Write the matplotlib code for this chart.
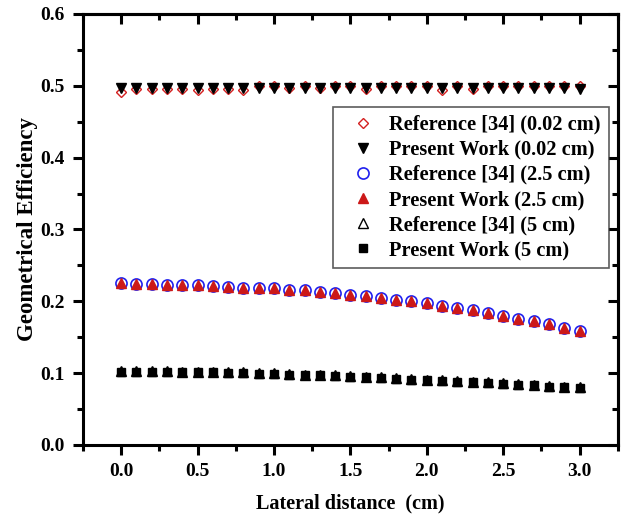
import numpy as np
import matplotlib
matplotlib.use("Agg")
import matplotlib.pyplot as plt
from matplotlib.ticker import MultipleLocator, FormatStrFormatter

plt.rcParams['font.family'] = ['Liberation Serif', 'DejaVu Serif']
plt.rcParams['font.weight'] = 'bold'

# lateral distance (cm)
x = [0.0, 0.1, 0.2, 0.3, 0.4, 0.5, 0.6, 0.7, 0.8, 0.9, 1.0,
     1.1, 1.2, 1.3, 1.4, 1.5, 1.6, 1.7, 1.8, 1.9, 2.0,
     2.1, 2.2, 2.3, 2.4, 2.5, 2.6, 2.7, 2.8, 2.9, 3.0]

ref_002 = [0.491, 0.495, 0.495, 0.495, 0.495, 0.494, 0.495, 0.495, 0.494, 0.499, 0.500,
           0.497, 0.500, 0.497, 0.500, 0.500, 0.495, 0.500, 0.500, 0.500, 0.500,
           0.494, 0.500, 0.496, 0.500, 0.500, 0.500, 0.500, 0.500, 0.500, 0.500]
pw_002 = [0.497, 0.497, 0.497, 0.497, 0.497, 0.497, 0.497, 0.497, 0.497, 0.497, 0.497,
          0.497, 0.497, 0.497, 0.497, 0.497, 0.497, 0.497, 0.497, 0.497, 0.497,
          0.497, 0.497, 0.497, 0.497, 0.497, 0.497, 0.497, 0.497, 0.497, 0.496]

ref_25 = [0.225, 0.224, 0.224, 0.223, 0.223, 0.222, 0.221, 0.220, 0.219, 0.219, 0.218,
          0.216, 0.215, 0.213, 0.211, 0.209, 0.207, 0.205, 0.202, 0.200, 0.197,
          0.194, 0.191, 0.188, 0.184, 0.180, 0.176, 0.172, 0.168, 0.163, 0.158]
pw_25 = [0.225, 0.224, 0.224, 0.223, 0.223, 0.222, 0.221, 0.220, 0.219, 0.219, 0.218,
         0.216, 0.215, 0.213, 0.211, 0.209, 0.207, 0.205, 0.202, 0.200, 0.197,
         0.194, 0.191, 0.188, 0.184, 0.180, 0.176, 0.172, 0.168, 0.163, 0.158]

ref_5 = [0.103, 0.103, 0.103, 0.103, 0.102, 0.102, 0.102, 0.101, 0.101, 0.100, 0.100,
         0.099, 0.098, 0.098, 0.097, 0.096, 0.095, 0.094, 0.093, 0.092, 0.091,
         0.090, 0.089, 0.088, 0.087, 0.086, 0.085, 0.084, 0.082, 0.081, 0.080]
pw_5 = [0.102, 0.102, 0.102, 0.102, 0.101, 0.101, 0.101, 0.100, 0.100, 0.099, 0.099,
        0.098, 0.097, 0.097, 0.096, 0.095, 0.094, 0.093, 0.092, 0.091, 0.090,
        0.089, 0.088, 0.087, 0.086, 0.085, 0.084, 0.083, 0.081, 0.080, 0.079]

labels = ['Reference [34] (0.02 cm)', 'Present Work (0.02 cm)',
          'Reference [34] (2.5 cm)', 'Present Work (2.5 cm)',
          'Reference [34] (5 cm)', 'Present Work (5 cm)']

fig = plt.figure(figsize=(6.24, 5.15), dpi=100)
ax = fig.add_axes([0.133, 0.136, 0.857, 0.837])

h1, = ax.plot(x, ref_002, 'D', ms=5.5, mfc='none', mec='#d42020', mew=1.0, ls='none')
h2, = ax.plot(x, pw_002, 'v', ms=6.5, color='black', ls='none')
h3, = ax.plot(x, ref_25, 'o', ms=8, mfc='none', mec='#2020ee', mew=1.2, ls='none')
h4, = ax.plot(x, pw_25, '^', ms=7, color='#cc1818', ls='none')
h6, = ax.plot(x, pw_5, 's', ms=5.5, color='black', ls='none')
h5, = ax.plot(x, ref_5, '^', ms=7.5, mfc='none', mec='black', mew=1.0, ls='none')

ax.set_xlim(-0.25, 3.25)
ax.set_ylim(0.0, 0.6)
ax.xaxis.set_major_locator(MultipleLocator(0.5))
ax.xaxis.set_minor_locator(MultipleLocator(0.25))
ax.yaxis.set_major_locator(MultipleLocator(0.1))
ax.yaxis.set_minor_locator(MultipleLocator(0.05))
ax.xaxis.set_major_formatter(FormatStrFormatter('%.1f'))
ax.yaxis.set_major_formatter(FormatStrFormatter('%.1f'))
ax.tick_params(which='major', direction='out', length=7, width=2.2, labelsize=14, pad=6)
ax.tick_params(which='minor', direction='out', length=4, width=2.2)
for s in ax.spines.values():
    s.set_linewidth(2.2)

# mirrored ticks on top and right, pointing inward
top = ax.secondary_xaxis('top')
top.xaxis.set_major_locator(MultipleLocator(0.5))
top.xaxis.set_minor_locator(MultipleLocator(0.25))
top.tick_params(which='major', direction='in', length=7, width=2.2, labeltop=False)
top.tick_params(which='minor', direction='in', length=4, width=2.2)
right = ax.secondary_yaxis('right')
right.yaxis.set_major_locator(MultipleLocator(0.1))
right.yaxis.set_minor_locator(MultipleLocator(0.05))
right.tick_params(which='major', direction='in', length=7, width=2.2, labelright=False)
right.tick_params(which='minor', direction='in', length=4, width=2.2)
for sa in (top, right):
    for s in sa.spines.values():
        s.set_linewidth(2.2)

ax.set_xlabel('Lateral distance  (cm)', fontsize=14.5, fontweight='bold', labelpad=10)
ax.set_ylabel('Geometrical Efficiency', fontsize=16.5, fontweight='bold', labelpad=2)

leg = ax.legend([h1, h2, h3, h4, h5, h6], labels, loc='upper right',
                bbox_to_anchor=(0.983, 0.785), borderaxespad=0, frameon=True,
                fancybox=False, edgecolor='#333333', labelspacing=0.25,
                handletextpad=0.2, borderpad=0.4, handlelength=2.15,
                prop={'weight': 'bold', 'size': 14.7})
leg.get_frame().set_linewidth(1.2)

fig.savefig('out.png', dpi=100)
